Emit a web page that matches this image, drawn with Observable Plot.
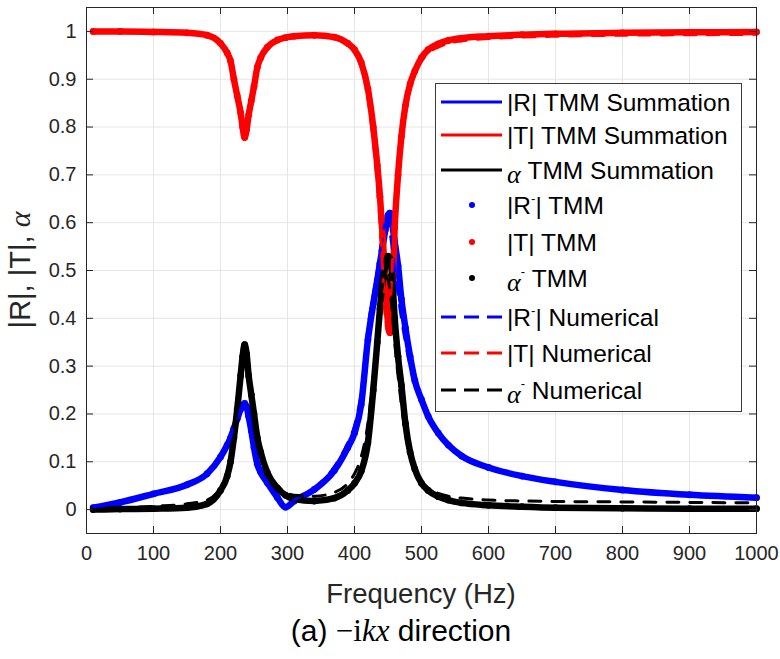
<!DOCTYPE html>
<html><head><meta charset="utf-8">
<script src="https://cdn.jsdelivr.net/npm/d3@7"></script>
<script src="https://cdn.jsdelivr.net/npm/@observablehq/plot@0.6"></script>
<style>
body{margin:0;background:#fff;}
#wrap{position:relative;width:780px;height:659px;background:#fff;}
#wrap > svg{position:absolute;left:0;top:0;}
#over{pointer-events:none;}
</style></head><body><div id="wrap"></div>
<script>
// Frequency samples (Hz)
const freq = [10,50,100,150,180,200,210,215,220,225,230,233,236,239,242,246,250,255,260,270,285,297,310,340,370,390,400,410,420,428,434,438,442,446,450,453,456,460,465,470,476,483,490,500,510,525,540,560,600,650,700,800,900,1000];

// TMM Summation (solid lines)
const RSum = [0.004,0.015,0.033,0.052,0.075,0.11,0.135,0.15,0.17,0.19,0.21,0.218,0.222,0.215,0.195,0.165,0.13,0.095,0.078,0.056,0.025,0.006,0.018,0.042,0.082,0.13,0.16,0.225,0.355,0.43,0.48,0.51,0.548,0.575,0.6,0.605,0.59,0.56,0.51,0.44,0.38,0.32,0.27,0.23,0.195,0.16,0.135,0.112,0.088,0.07,0.058,0.041,0.031,0.025];
const TSum = [1.0,1.0,0.999,0.997,0.992,0.975,0.955,0.938,0.9,0.865,0.83,0.8,0.778,0.795,0.825,0.855,0.885,0.925,0.945,0.967,0.982,0.987,0.99,0.992,0.988,0.975,0.962,0.935,0.88,0.8,0.72,0.66,0.58,0.5,0.42,0.395,0.46,0.6,0.7,0.78,0.845,0.89,0.917,0.945,0.962,0.974,0.981,0.986,0.99,0.993,0.995,0.997,0.998,0.999];
const aSum = [0.0,0.001,0.002,0.004,0.012,0.04,0.07,0.1,0.15,0.21,0.28,0.32,0.345,0.325,0.28,0.24,0.2,0.15,0.12,0.077,0.045,0.03,0.022,0.018,0.024,0.04,0.055,0.08,0.14,0.245,0.34,0.4,0.455,0.48,0.49,0.49,0.46,0.39,0.32,0.26,0.18,0.12,0.085,0.055,0.04,0.027,0.02,0.014,0.009,0.006,0.004,0.003,0.002,0.002];

// TMM (dots)
const RTMM = [0.004,0.015,0.033,0.052,0.075,0.11,0.135,0.15,0.17,0.19,0.21,0.218,0.222,0.215,0.195,0.165,0.13,0.095,0.078,0.056,0.025,0.005,0.018,0.042,0.082,0.13,0.16,0.22,0.355,0.43,0.48,0.515,0.55,0.585,0.615,0.62,0.6,0.56,0.51,0.44,0.38,0.32,0.27,0.23,0.195,0.16,0.135,0.112,0.088,0.07,0.058,0.041,0.031,0.025];
const TTMM = [1.0,1.0,0.999,0.997,0.992,0.975,0.955,0.938,0.9,0.865,0.83,0.8,0.778,0.795,0.825,0.855,0.885,0.925,0.945,0.967,0.982,0.987,0.99,0.992,0.988,0.975,0.962,0.935,0.88,0.8,0.72,0.655,0.57,0.48,0.39,0.37,0.44,0.59,0.7,0.78,0.845,0.89,0.917,0.945,0.962,0.974,0.981,0.986,0.99,0.993,0.995,0.997,0.998,0.999];
const aTMM = [0.0,0.001,0.002,0.004,0.012,0.04,0.07,0.1,0.15,0.21,0.28,0.32,0.345,0.325,0.28,0.24,0.2,0.15,0.12,0.077,0.045,0.03,0.022,0.018,0.024,0.04,0.055,0.08,0.14,0.25,0.35,0.42,0.48,0.51,0.53,0.525,0.49,0.4,0.32,0.26,0.18,0.12,0.085,0.055,0.04,0.027,0.02,0.014,0.009,0.006,0.004,0.003,0.002,0.002];

// Numerical (dashed)
const RNum = [0.004,0.015,0.033,0.052,0.075,0.11,0.135,0.15,0.17,0.19,0.21,0.218,0.22,0.213,0.195,0.165,0.13,0.095,0.078,0.056,0.025,0.008,0.02,0.045,0.09,0.14,0.175,0.245,0.38,0.45,0.5,0.54,0.57,0.6,0.6,0.58,0.55,0.5,0.45,0.4,0.35,0.3,0.26,0.225,0.19,0.158,0.133,0.11,0.087,0.069,0.057,0.041,0.031,0.025];
const TNum = [1.0,1.0,0.998,0.996,0.99,0.973,0.953,0.936,0.9,0.865,0.83,0.8,0.78,0.795,0.825,0.855,0.885,0.925,0.945,0.965,0.98,0.985,0.988,0.99,0.985,0.97,0.955,0.925,0.86,0.77,0.68,0.6,0.5,0.4,0.37,0.41,0.5,0.61,0.7,0.77,0.835,0.88,0.91,0.938,0.955,0.967,0.975,0.98,0.985,0.988,0.99,0.992,0.993,0.994];
const aNum = [0.0,0.003,0.007,0.012,0.02,0.045,0.072,0.1,0.15,0.21,0.28,0.32,0.34,0.32,0.28,0.24,0.2,0.15,0.12,0.08,0.05,0.037,0.03,0.028,0.036,0.055,0.075,0.11,0.18,0.28,0.37,0.43,0.47,0.49,0.48,0.46,0.42,0.35,0.28,0.22,0.16,0.11,0.08,0.058,0.045,0.034,0.028,0.024,0.02,0.018,0.017,0.016,0.015,0.014];

// Ticks
const xTicks = [0,100,200,300,400,500,600,700,800,900,1000];
const yTicks = [0,0.1,0.2,0.3,0.4,0.5,0.6,0.7,0.8,0.9,1];
const yTickLabels = ["0","0.1","0.2","0.3","0.4","0.5","0.6","0.7","0.8","0.9","1"];

const rows = freq.map((f, i) => ({f, RSum: RSum[i], TSum: TSum[i], aSum: aSum[i], RTMM: RTMM[i], TTMM: TTMM[i], aTMM: aTMM[i], RNum: RNum[i], TNum: TNum[i], aNum: aNum[i]}));

const BLUE = "#0000ff", RED = "#ff0000", BLACK = "#000000";
const curve = "monotone-x";
const solid = (y, c) => Plot.line(rows, {x: "f", y, stroke: c, strokeWidth: 3, curve});
const band = (y, c) => Plot.line(rows, {x: "f", y, stroke: c, strokeWidth: 6.5, curve});
const dots = (y, c) => Plot.dot(rows, {x: "f", y, fill: c, r: 3.4, stroke: "none"});
const dashed = (y, c) => Plot.line(rows, {x: "f", y, stroke: c, strokeWidth: 3, strokeDasharray: "12,11", curve});

const chart = Plot.plot({
  width: 780, height: 575,
  marginLeft: 86, marginRight: 24, marginTop: 7, marginBottom: 42,
  x: {domain: [0, 1000]},
  y: {domain: [-0.05, 1.05]},
  style: {fontFamily: "'Liberation Sans', Arial, sans-serif", fontSize: "20px", color: "#262626", background: "#ffffff", overflow: "visible"},
  marks: [
    Plot.gridX(xTicks, {stroke: "#e5e5e5", strokeOpacity: 1, strokeWidth: 1}),
    Plot.gridY(yTicks, {stroke: "#e5e5e5", strokeOpacity: 1, strokeWidth: 1}),
    solid("RSum", BLUE), solid("TSum", RED), solid("aSum", BLACK),
    band("RTMM", BLUE), dots("RTMM", BLUE),
    band("TTMM", RED), dots("TTMM", RED),
    band("aTMM", BLACK), dots("aTMM", BLACK),
    dashed("RNum", BLUE), dashed("TNum", RED), dashed("aNum", BLACK),
    Plot.frame({stroke: "#262626", strokeWidth: 1}),
    Plot.tickX(xTicks, {x: d => d, insetBottom: 519, stroke: "#262626"}),
    Plot.tickX(xTicks, {x: d => d, insetTop: 519, stroke: "#262626"}),
    Plot.tickY(yTicks, {y: d => d, insetRight: 663, stroke: "#262626"}),
    Plot.tickY(yTicks, {y: d => d, insetLeft: 663, stroke: "#262626"}),
    Plot.axisX(xTicks, {anchor: "bottom", tickSize: 0, tickPadding: 12, label: null, fontSize: 20, fill: "#262626", tickFormat: d => String(d)}),
    Plot.axisY(yTicks, {anchor: "left", tickSize: 0, tickPadding: 10, label: null, fontSize: 20, fill: "#262626", tickFormat: d => yTickLabels[yTicks.indexOf(d)]})
  ]
});
const wrap = document.getElementById("wrap");
wrap.appendChild(chart);

// Overlay: axis labels, legend, caption (text)
const SANS = "'Liberation Sans', Arial, sans-serif";
const SERIF = "'Liberation Serif', 'DejaVu Serif', serif";
const legendItems = [
  {kind: "line", color: BLUE, parts: [["|R| TMM Summation"]]},
  {kind: "line", color: RED, parts: [["|T| TMM Summation"]]},
  {kind: "line", color: BLACK, parts: [["α", "it"], [" TMM Summation"]]},
  {kind: "dot", color: BLUE, parts: [["|R"], ["-", "sup"], ["| TMM"]]},
  {kind: "dot", color: RED, parts: [["|T| TMM"]]},
  {kind: "dot", color: BLACK, parts: [["α", "it"], ["-", "sup"], [" TMM"]]},
  {kind: "dash", color: BLUE, parts: [["|R"], ["-", "sup"], ["| Numerical"]]},
  {kind: "dash", color: RED, parts: [["|T| Numerical"]]},
  {kind: "dash", color: BLACK, parts: [["α", "it"], ["-", "sup"], [" Numerical"]]}
];
const rowY = [102, 135, 170, 205, 242, 278, 317, 353, 390];

const over = d3.select(wrap).append("svg").attr("id", "over").attr("width", 780).attr("height", 659);

// Legend box
over.append("rect").attr("x", 435.5).attr("y", 83.5).attr("width", 306).attr("height", 328)
  .attr("fill", "#fff").attr("stroke", "#3a3a3a").attr("stroke-width", 1);
legendItems.forEach((it, i) => {
  const cy = rowY[i];
  if (it.kind === "line" || it.kind === "dash") {
    over.append("line").attr("x1", 441).attr("x2", 502).attr("y1", cy).attr("y2", cy)
      .attr("stroke", it.color).attr("stroke-width", 3)
      .attr("stroke-dasharray", it.kind === "dash" ? "15,8" : null);
  } else {
    over.append("circle").attr("cx", 472).attr("cy", cy).attr("r", 3).attr("fill", it.color);
  }
  const t = over.append("text").attr("x", 507).attr("y", cy + 8.5)
    .attr("font-family", SANS).attr("font-size", 24.5).attr("fill", "#000");
  let afterSup = false;
  it.parts.forEach(([s, style]) => {
    const sp = t.append("tspan").text(s);
    if (style === "it") sp.attr("font-family", SERIF).attr("font-style", "italic").attr("font-size", 26).attr("dy", 4);
    if (style === "sup") sp.attr("font-size", 13).attr("dy", style === "sup" && it.parts[0][1] === "it" ? -15 : -11);
    if (!style && afterSup) sp.attr("dy", it.parts[0][1] === "it" ? 11 : 11);
    if (!style && it.parts[0][1] === "it" && !afterSup && s !== it.parts[0][0]) sp.attr("dy", -4);
    afterSup = style === "sup";
  });
});

// X label
over.append("text").attr("x", 421).attr("y", 603).attr("text-anchor", "middle")
  .attr("font-family", SANS).attr("font-size", 27.5).attr("fill", "#262626").text("Frequency (Hz)");

// Y label
const yl = over.append("text").attr("transform", "translate(30,270) rotate(-90)").attr("text-anchor", "middle")
  .attr("font-family", SANS).attr("font-size", 29).attr("fill", "#262626");
yl.append("tspan").text("|R|, |T|, ");
yl.append("tspan").attr("font-family", SERIF).attr("font-style", "italic").attr("font-size", 30).text("α");

// Caption
const cap = over.append("text").attr("x", 401).attr("y", 641).attr("text-anchor", "middle")
  .attr("font-family", SANS).attr("font-size", 30).attr("fill", "#000");
cap.append("tspan").text("(a) ");
cap.append("tspan").attr("font-family", SERIF).attr("font-size", 31).text("−i");
cap.append("tspan").attr("font-family", SERIF).attr("font-style", "italic").attr("font-size", 31).text("kx");
cap.append("tspan").text(" direction");
</script>
</body></html>
